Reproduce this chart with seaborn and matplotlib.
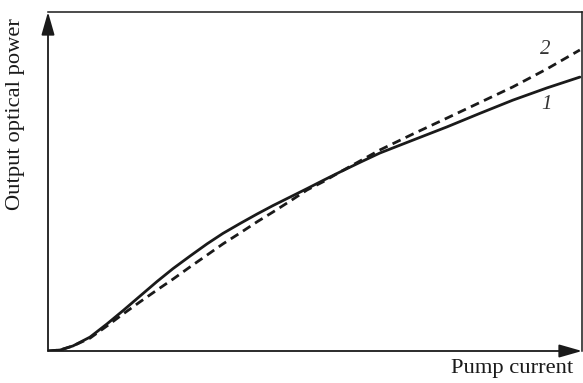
import pandas as pd
import matplotlib
matplotlib.use("Agg")
import matplotlib.pyplot as plt
import seaborn as sns

# Pump current (arb. units, 0-100) shared by both curves
current = [0.0, 2.3, 4.7, 7.9, 11.1, 14.1, 17.3, 20.5, 23.5, 26.7, 29.9, 32.9, 36.1,
           39.3, 42.3, 45.5, 48.7, 51.7, 54.9, 58.6, 62.4, 68.6, 75.0, 81.2, 87.4,
           93.8, 100.0]

# Output optical power (arb. units) for curve 1 (solid) and curve 2 (dashed)
power_1 = [0.0, 0.3, 1.5, 4.1, 8.0, 11.9, 16.2, 20.5, 24.3, 28.0, 31.6, 34.7, 37.6,
           40.4, 42.9, 45.4, 47.9, 50.3, 52.8, 55.6, 58.4, 62.2, 66.1, 70.1, 74.0,
           77.6, 80.8]
power_2 = [0.0, 0.3, 1.5, 3.8, 7.4, 10.9, 14.5, 18.0, 21.2, 24.8, 28.3, 31.6, 34.8,
           38.1, 41.0, 44.2, 47.5, 49.9, 52.8, 56.0, 59.3, 64.0, 68.7, 73.3, 77.9,
           83.2, 88.8]

curve_labels = ["1", "2"]

df = pd.concat([
    pd.DataFrame({"current": current, "power": power_1, "curve": curve_labels[0]}),
    pd.DataFrame({"current": current, "power": power_2, "curve": curve_labels[1]}),
])

sns.set_style("white")
plt.rcParams["font.family"] = ["Liberation Serif", "DejaVu Serif"]

ink = "#1a1a1a"
fig = plt.figure(figsize=(5.83, 3.83), dpi=100)
ax = fig.add_axes([48 / 583, 32 / 383, 534 / 583, 339 / 383])

sns.lineplot(data=df, x="current", y="power", style="curve",
             dashes={"1": "", "2": (3.2, 2.0)}, color=ink,
             linewidth=2.0, sort=False, legend=False, ax=ax)

ax.set_xlim(0, 100.4)
ax.set_ylim(0, 100)
ax.set_xticks([])
ax.set_yticks([])
ax.set_xlabel("")
ax.set_ylabel("Output optical power", fontsize=16.2, color=ink)
ax.yaxis.set_label_coords(-0.043, 0.70)

for side in ["top", "right"]:
    ax.spines[side].set_visible(True)
    ax.spines[side].set_linewidth(1.1)
    ax.spines[side].set_color(ink)
for side in ["left", "bottom"]:
    ax.spines[side].set_visible(False)

# axis arrows
arrow_kw = dict(arrowstyle="-|>,head_length=0.7,head_width=0.2", color=ink,
                lw=1.3, shrinkA=0, shrinkB=0, mutation_scale=20)
ax.annotate("", xy=(0, 1.0), xytext=(0, 0), xycoords="axes fraction",
            textcoords="axes fraction", arrowprops=arrow_kw, annotation_clip=False)
ax.annotate("", xy=(1.0, 0), xytext=(0, 0), xycoords="axes fraction",
            textcoords="axes fraction", arrowprops=arrow_kw, annotation_clip=False)

fig.text(573 / 583, (383 - 369) / 383, "Pump current", ha="right", va="center",
         fontsize=16.2, color=ink)

ax.text(93.4, 88.8, curve_labels[1], style="italic", fontsize=15, ha="center",
        va="center", color="#333333")
ax.text(93.8, 72.6, curve_labels[0], style="italic", fontsize=15, ha="center",
        va="center", color="#333333")

fig.savefig("out.png", dpi=100)
